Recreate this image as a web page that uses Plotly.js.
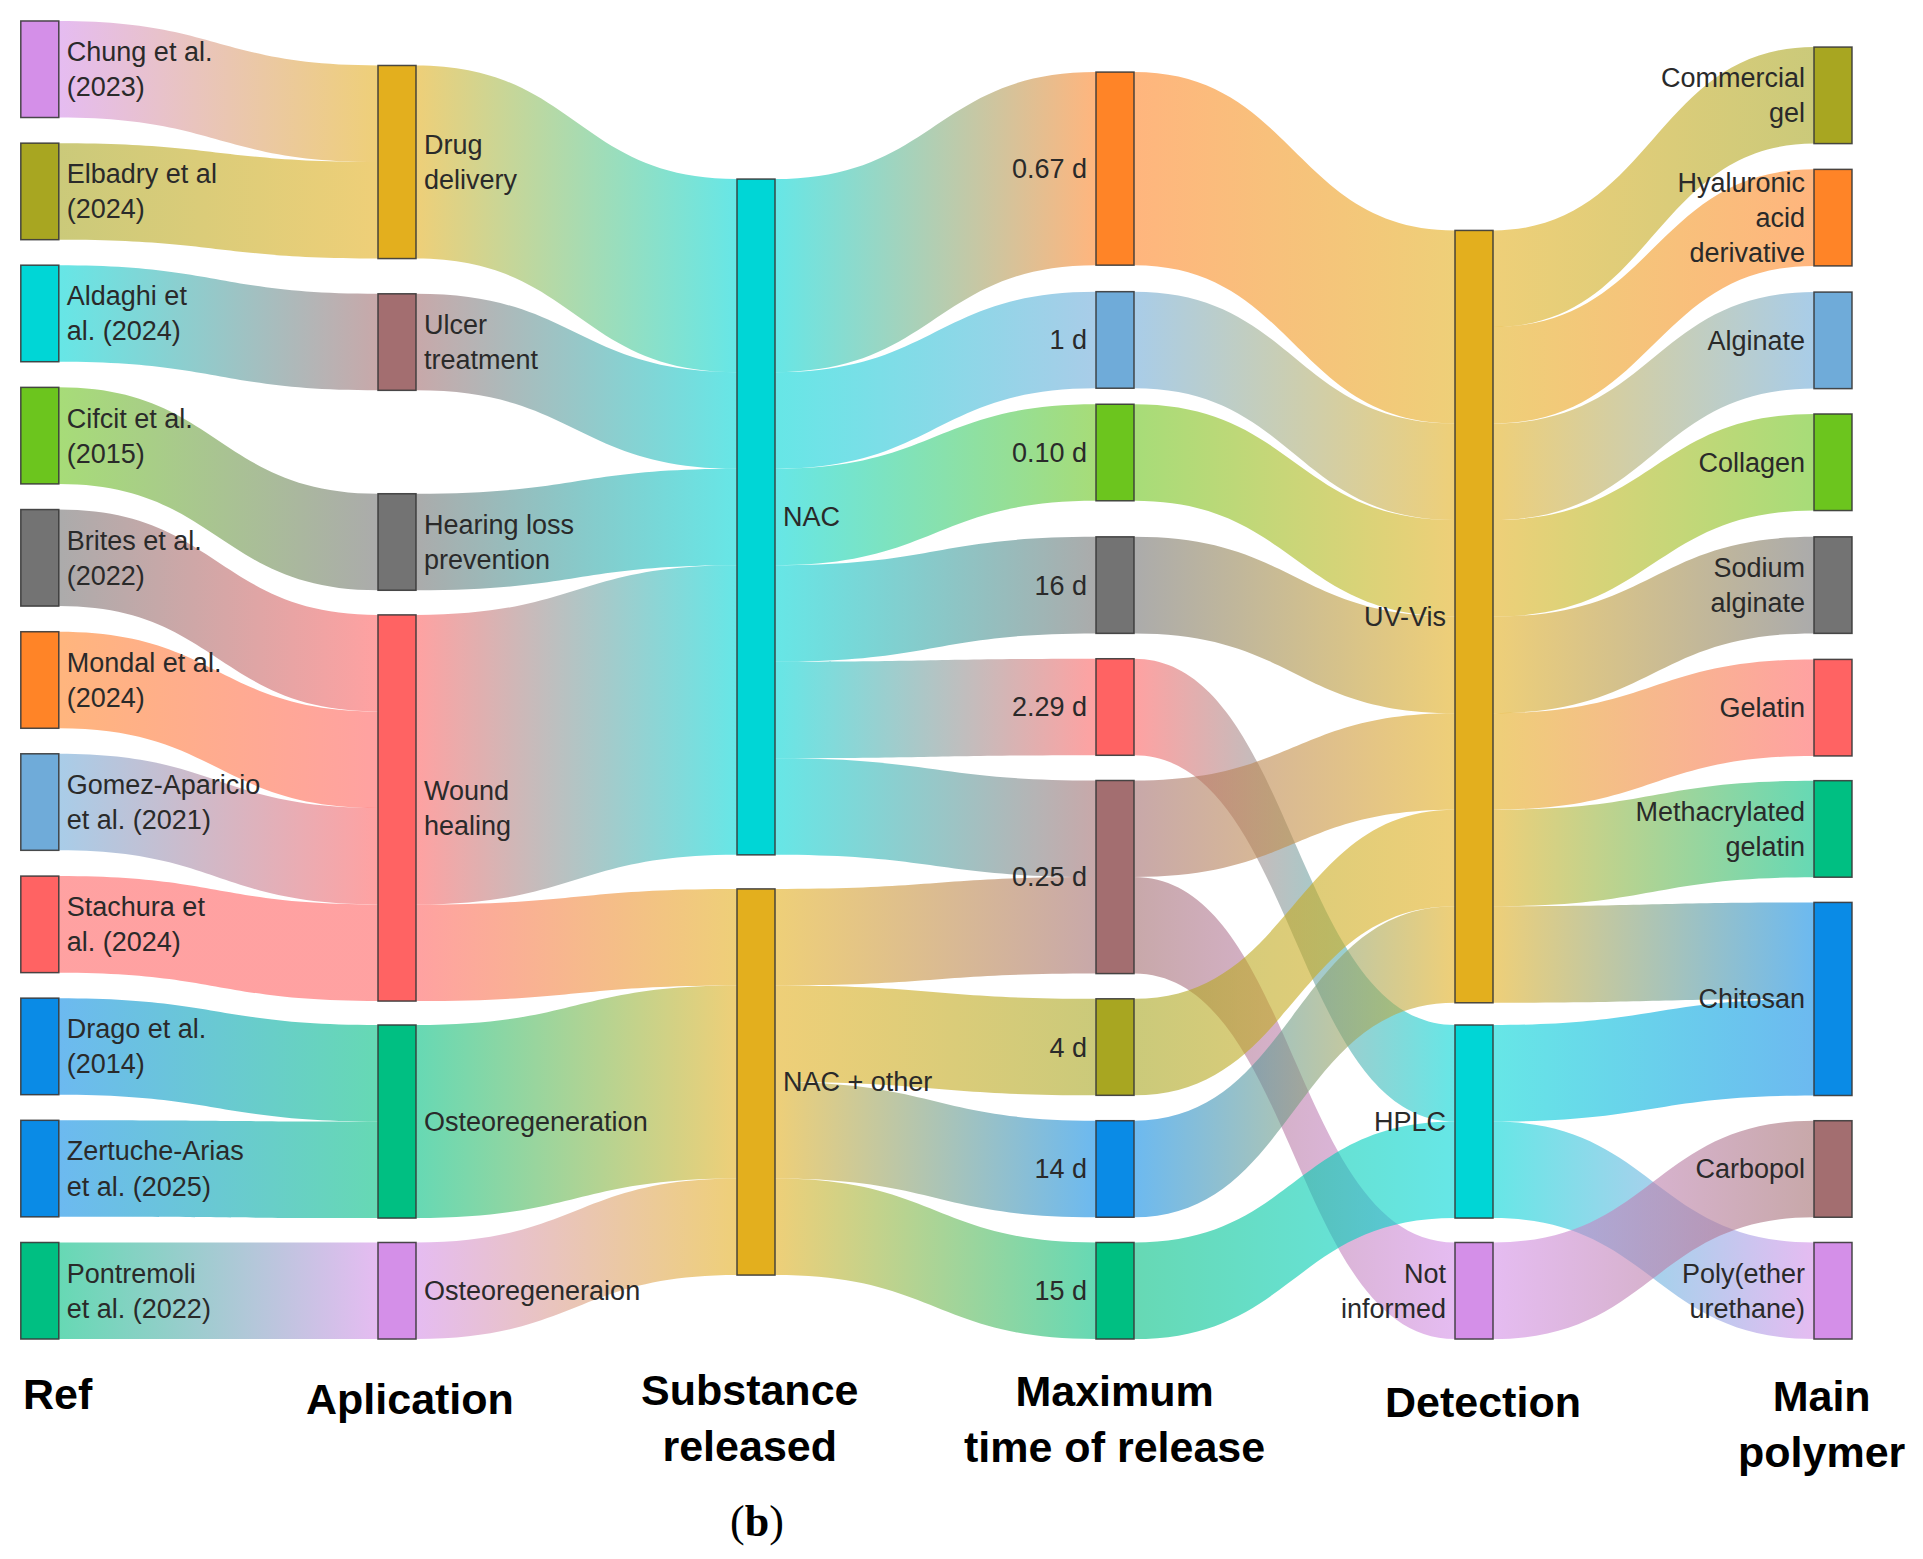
<!DOCTYPE html>
<html>
<head>
<meta charset="utf-8">
<script src="https://cdn.plot.ly/plotly-3.0.1.min.js"></script>
<style>
html,body{margin:0;padding:0;background:#fff;}
#chart{width:1923px;height:1559px;}
</style>
</head>
<body>
<div id="chart"></div>
<script>
// ---------------- DATA ----------------
const refs = ["Chung et al.<br>(2023)", "Elbadry et al<br>(2024)", "Aldaghi et<br>al. (2024)", "Cifcit et al.<br>(2015)",
  "Brites et al.<br>(2022)", "Mondal et al.<br>(2024)", "Gomez-Aparicio<br>et al. (2021)", "Stachura et<br>al. (2024)",
  "Drago et al.<br>(2014)", "Zertuche-Arias<br>et al. (2025)", "Pontremoli<br>et al. (2022)"];
const applications = ["Drug<br>delivery", "Ulcer<br>treatment", "Hearing loss<br>prevention", "Wound<br>healing",
  "Osteoregeneration", "Osteoregeneraion"];
const substances = ["NAC", "NAC + other"];
const releaseTimes = ["0.67 d", "1 d", "0.10 d", "16 d", "2.29 d", "0.25 d", "4 d", "14 d", "15 d"];
const detections = ["UV-Vis", "HPLC", "Not<br>informed"];
const polymers = ["Commercial<br>gel", "Hyaluronic<br>acid<br>derivative", "Alginate", "Collagen", "Sodium<br>alginate",
  "Gelatin", "Methacrylated<br>gelatin", "Chitosan", "Carbopol", "Poly(ether<br>urethane)"];

// flows (source label -> target label : number of studies)
const linkFrom = [
  refs[0], refs[1], refs[2], refs[3], refs[4], refs[5], refs[6], refs[7], refs[8], refs[9], refs[10],
  applications[0], applications[1], applications[2], applications[3], applications[3], applications[4], applications[5],
  "NAC", "NAC", "NAC", "NAC", "NAC", "NAC", "NAC + other", "NAC + other", "NAC + other", "NAC + other",
  "0.67 d", "1 d", "0.10 d", "16 d", "2.29 d", "0.25 d", "0.25 d", "4 d", "14 d", "15 d",
  "UV-Vis", "UV-Vis", "UV-Vis", "UV-Vis", "UV-Vis", "UV-Vis", "UV-Vis", "UV-Vis", "HPLC", "HPLC", "Not<br>informed"
];
const linkTo = [
  applications[0], applications[0], applications[1], applications[2], applications[3], applications[3], applications[3], applications[3], applications[4], applications[4], applications[5],
  "NAC", "NAC", "NAC", "NAC", "NAC + other", "NAC + other", "NAC + other",
  "0.67 d", "1 d", "0.10 d", "16 d", "2.29 d", "0.25 d", "0.25 d", "4 d", "14 d", "15 d",
  "UV-Vis", "UV-Vis", "UV-Vis", "UV-Vis", "HPLC", "UV-Vis", "Not<br>informed", "UV-Vis", "UV-Vis", "HPLC",
  polymers[0], polymers[1], polymers[2], polymers[3], polymers[4], polymers[5], polymers[6], polymers[7], polymers[7], polymers[9], polymers[8]
];
const linkValue = [
  1, 1, 1, 1, 1, 1, 1, 1, 1, 1, 1,
  2, 1, 1, 3, 1, 2, 1,
  2, 1, 1, 1, 1, 1, 1, 1, 1, 1,
  2, 1, 1, 1, 1, 1, 1, 1, 1, 1,
  1, 1, 1, 1, 1, 1, 1, 1, 1, 1, 1
];

const columnHeaders = ["Ref", "Aplication", "Substance<br>released", "Maximum<br>time of release", "Detection", "Main<br>polymer"];
const caption = "(<b>b</b>)";

// ---------------- STYLE / LAYOUT ----------------
const C = {violet:'#D48FE8', olive:'#A8A621', cyan:'#00D6D6', lime:'#6CC51E', gray:'#737373', orange:'#FF8427',
  sky:'#6FABD9', red:'#FF6363', blue:'#0A8BE6', teal:'#00BF82', gold:'#E3AF1E', mauve:'#A36E70'};
const columns = [refs, applications, substances, releaseTimes, detections, polymers];
const columnColors = [
  [C.violet, C.olive, C.cyan, C.lime, C.gray, C.orange, C.sky, C.red, C.blue, C.blue, C.teal],
  [C.gold, C.mauve, C.gray, C.red, C.teal, C.violet],
  [C.cyan, C.gold],
  [C.orange, C.sky, C.lime, C.gray, C.red, C.mauve, C.olive, C.blue, C.teal],
  [C.gold, C.cyan, C.violet],
  [C.olive, C.orange, C.sky, C.lime, C.gray, C.red, C.teal, C.blue, C.mauve, C.violet]
];
// node centre positions (fraction of the plot area)
const columnX = [0.001, 0.2, 0.4, 0.6, 0.8, 1.0];
const columnY = [
  [0.0366, 0.1293, 0.2219, 0.3146, 0.4073, 0.5, 0.5926, 0.6854, 0.778, 0.8707, 0.9634],
  [0.107, 0.2436, 0.3953, 0.5971, 0.835, 0.9634],
  [0.3763, 0.805],
  [0.112, 0.242, 0.3274, 0.428, 0.5205, 0.6495, 0.7785, 0.871, 0.9634],
  [0.4519, 0.835, 0.9634],
  [0.0564, 0.1492, 0.2423, 0.3348, 0.428, 0.521, 0.613, 0.742, 0.871, 0.9634]
];

const W = 1923, H = 1559;
const M = {l: 38, r: 90, t: 21, b: 220};
const PW = W - M.l - M.r, PH = H - M.t - M.b;
const LINK_ALPHA = 0.6;

const labels = [], colors = [], xs = [], ys = [], nodeColumn = [];
columns.forEach((col, ci) => col.forEach((lab, k) => {
  labels.push(lab); colors.push(columnColors[ci][k]);
  xs.push(columnX[ci]); ys.push(columnY[ci][k]); nodeColumn.push(ci);
}));
const idx = lab => labels.indexOf(lab);
const src = linkFrom.map(idx), tgt = linkTo.map(idx);

function rgba(hex, a) {
  const n = parseInt(hex.slice(1), 16);
  return `rgba(${(n >> 16) & 255},${(n >> 8) & 255},${n & 255},${a})`;
}

const trace = {
  type: 'sankey',
  arrangement: 'fixed',
  orientation: 'h',
  hoverinfo: 'none',
  node: {
    label: labels, color: colors, x: xs, y: ys,
    pad: 25.6, thickness: 38,
    line: {color: 'rgba(55,55,55,0.9)', width: 1.5},
    hoverinfo: 'none'
  },
  link: {
    source: src, target: tgt, value: linkValue,
    color: src.map(s => rgba(colors[s], LINK_ALPHA)),
    hoverinfo: 'none'
  },
  textfont: {family: 'Liberation Sans, Arial, sans-serif', size: 27, color: '#2a2a2a', shadow: 'none'}
};

const px2x = px => (px - M.l) / PW;
const py2y = py => 1 - (py - M.t) / PH;
const headerPos = [[21, 1394, 'left'], [410, 1399, 'center'], [749, 1418, 'center'], [1114, 1419, 'center'], [1483, 1402, 'center'], [1822, 1424, 'center']];
const annotations = columnHeaders.map((t, i) => ({
  text: '<b>' + t + '</b>', xref: 'paper', yref: 'paper',
  x: px2x(headerPos[i][0]), y: py2y(headerPos[i][1]),
  xanchor: headerPos[i][2], yanchor: 'middle', align: 'center', showarrow: false,
  font: {family: 'Liberation Sans, Arial, sans-serif', size: 43, color: '#000'}
}));
annotations.push({
  text: caption, xref: 'paper', yref: 'paper', x: px2x(757), y: py2y(1521),
  xanchor: 'center', yanchor: 'middle', showarrow: false,
  font: {family: 'Liberation Serif, Times New Roman, serif', size: 44, color: '#000'}
});

const layout = {
  width: W, height: H, margin: M,
  paper_bgcolor: '#fff', plot_bgcolor: '#fff',
  hovermode: false, showlegend: false,
  annotations: annotations
};

function fixUp() {
  const gd = document.getElementById('chart');
  const svg = gd.querySelector('svg.main-svg');
  if (!svg) return;
  const NS = 'http://www.w3.org/2000/svg';
  let defs = svg.querySelector('#linkGradDefs');
  if (!defs) { defs = document.createElementNS(NS, 'defs'); defs.setAttribute('id', 'linkGradDefs'); svg.insertBefore(defs, svg.firstChild); }
  while (defs.firstChild) defs.removeChild(defs.firstChild);
  gd.querySelectorAll('path.sankey-link').forEach((p, k) => {
    const d = p.__data__;
    if (!d || !d.link) return;
    const s = d.link.source.pointNumber, t = d.link.target.pointNumber;
    const id = 'lg' + k;
    const g = document.createElementNS(NS, 'linearGradient');
    g.setAttribute('id', id);
    g.setAttribute('x1', '0'); g.setAttribute('y1', '0'); g.setAttribute('x2', '1'); g.setAttribute('y2', '0');
    [[0, colors[s]], [1, colors[t]]].forEach(([o, c]) => {
      const st = document.createElementNS(NS, 'stop');
      st.setAttribute('offset', o); st.setAttribute('stop-color', c); st.setAttribute('stop-opacity', LINK_ALPHA);
      g.appendChild(st);
    });
    defs.appendChild(g);
    p.style.fill = 'url(#' + id + ')';
    p.style.fillOpacity = '1';
    p.style.stroke = 'none';
  });
  gd.querySelectorAll('g.sankey-node').forEach(n => {
    const d = n.__data__;
    if (!d || !d.node) return;
    const col = nodeColumn[d.node.pointNumber];
    const lab = n.querySelector('text.node-label');
    if (!lab) return;
    const tr = lab.getAttribute('transform') || '';
    const m = tr.match(/translate\(\s*([-\d.eE]+)[ ,]+([-\d.eE]+)\s*\)/);
    if (!m) return;
    const y = parseFloat(m[2]);
    const vw = d.visibleWidth || (d.node.x1 - d.node.x0);
    const left = col >= 3;
    const x = left ? -9 : vw + 8;
    lab.setAttribute('transform', 'translate(' + x + ',' + y + ')');
    lab.setAttribute('text-anchor', left ? 'end' : 'start');
    lab.style.textAnchor = left ? 'end' : 'start';
    lab.style.textShadow = 'none';
  });
}

Plotly.newPlot('chart', [trace], layout, {staticPlot: true, displayModeBar: false}).then(gd => {
  fixUp();
  gd.on('plotly_afterplot', fixUp);
});
</script>
</body>
</html>
